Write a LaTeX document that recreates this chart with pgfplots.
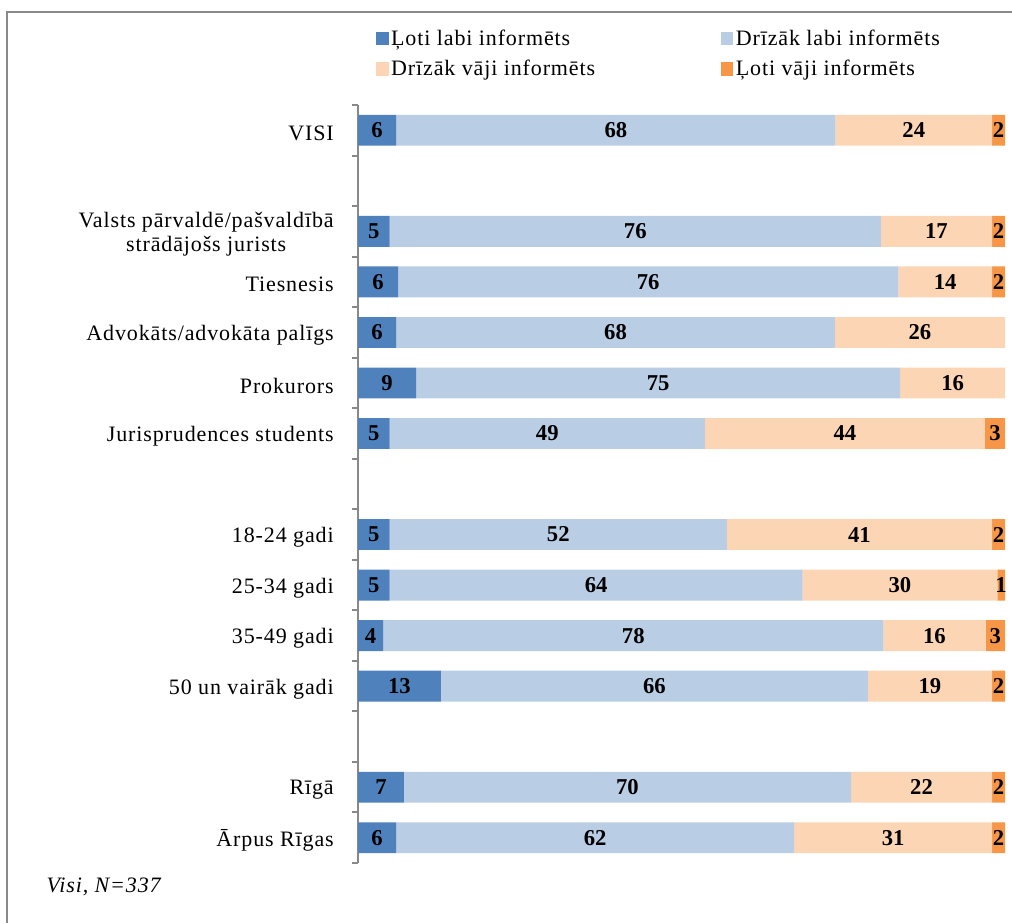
\documentclass[border=0pt]{standalone}
\usepackage{fontspec}
\setmainfont{Liberation Serif}
\newfontfamily\lsfont{Liberation Serif}[LetterSpace=4]
\usepackage{pgfplots}
\usepackage{pgfplotstable}
\pgfplotsset{compat=1.18}

\definecolor{c1}{HTML}{4F81BD}
\definecolor{c2}{HTML}{B9CDE5}
\definecolor{c3}{HTML}{FCD5B5}
\definecolor{c4}{HTML}{F79646}
\definecolor{framegray}{HTML}{898989}

% bar lengths (a-d) and printed values (la-ld)
\pgfplotstableread{
y  a    b    c    d   la lb lc ld
0  5.9  67.9 24.2 2.0 6  68 24 2
2  4.9  75.9 17.2 2.0 5  76 17 2
3  6.2  77.3 14.5 2.0 6  76 14 2
4  5.9  67.8 26.3 0.0 6  68 26 0
5  9.0  74.8 16.2 0.0 9  75 16 0
6  4.9  48.7 43.3 3.1 5  49 44 3
8  4.9  52.1 41.0 2.0 5  52 41 2
9  4.9  63.8 30.1 1.2 5  64 30 1
10 3.9  77.3 15.8 3.0 4  78 16 3
11 12.8 66.0 19.2 2.0 13 66 19 2
13 7.1  69.1 21.8 2.0 7  70 22 2
14 5.9  61.5 30.6 2.0 6  62 31 2
}\data

\pgfplotsset{
  frame/.style={
    at={(268.5pt,-647.25pt)}, anchor=south west,
    scale only axis, width=485.25pt, height=568.5pt,
    xmin=0, xmax=100, ymin=-0.5, ymax=14.5, y dir=reverse,
  },
  lbl/.style={only marks, mark=none, point meta=explicit,
    /pgf/number format/assume math mode=true,
    nodes near coords={\pgfmathprintnumber{\pgfplotspointmeta}},
    nodes near coords align=center,
    every node near coord/.append style={font=\fontsize{17}{18}\selectfont\bfseries, inner sep=0pt}},
}

\begin{document}
\begin{tikzpicture}
\useasboundingbox (0,0) rectangle (759pt,-691.5pt);
\draw[framegray, line width=1.5pt] (5.25pt,-700pt) -- (5.25pt,-9pt) -- (770pt,-9pt);

\begin{axis}[frame,
  xbar stacked, bar width=0.61,
  axis x line=none, axis y line*=left,
  axis line style={framegray, line width=1.5pt},
  ytick={0,2,3,4,5,6,8,9,10,11,13,14},
  yticklabels={VISI,{Valsts pārvaldē/pašvaldībā\\strādājošs jurists},Tiesnesis,Advokāts/advokāta palīgs,Prokurors,Jurisprudences students,18-24 gadi,25-34 gadi,35-49 gadi,50 un vairāk gadi,Rīgā,Ārpus Rīgas},
  yticklabel style={font=\lsfont\fontsize{16.5}{18}\selectfont, align=center, anchor=east, inner sep=0pt, xshift=-18pt, yshift=-2pt},
  major tick length=0pt,
  minor ytick={-0.5,0.5,...,14.5},
  minor tick length=4.5pt, tick align=outside,
  minor tick style={framegray, line width=1.5pt},
  legend columns=2,
  legend style={draw=none, at={(0.021,1.107)}, anchor=north west,
    font=\lsfont\fontsize{16.5}{17.5}\selectfont,
    /tikz/every even column/.append style={column sep=0pt},
    row sep=6pt},
  legend cell align=left,
  legend image code/.code={\fill[#1] (0pt,-5pt) rectangle (9.5pt,5pt);},
]
\addplot[fill=c1, draw=none] table[x=a, y=y] {\data};
\addplot[fill=c2, draw=none] table[x=b, y=y] {\data};
\addplot[fill=c3, draw=none] table[x=c, y=y] {\data};
\addplot[fill=c4, draw=none] table[x=d, y=y] {\data};
\legend{\makebox[245pt][l]{Ļoti labi informēts},Drīzāk labi informēts,\makebox[245pt][l]{Drīzāk vāji informēts},Ļoti vāji informēts}
\end{axis}

\begin{axis}[frame, hide axis, clip=false]
\addplot[lbl] table[x expr=\thisrow{a}/2, y=y, meta=la] {\data};
\addplot[lbl] table[x expr=\thisrow{a}+\thisrow{b}/2, y=y, meta=lb] {\data};
\addplot[lbl] table[x expr=\thisrow{a}+\thisrow{b}+\thisrow{c}/2, y=y, meta=lc] {\data};
\addplot[lbl, restrict expr to domain={\thisrow{ld}}{0.5:1000}] table[x expr=\thisrow{a}+\thisrow{b}+\thisrow{c}+\thisrow{d}/2, y=y, meta=ld] {\data};
\end{axis}

\node[anchor=west, font=\lsfont\itshape\fontsize{16.5}{17.5}\selectfont] at (31.5pt,-665.25pt) {Visi, N=337};
\end{tikzpicture}
\end{document}
